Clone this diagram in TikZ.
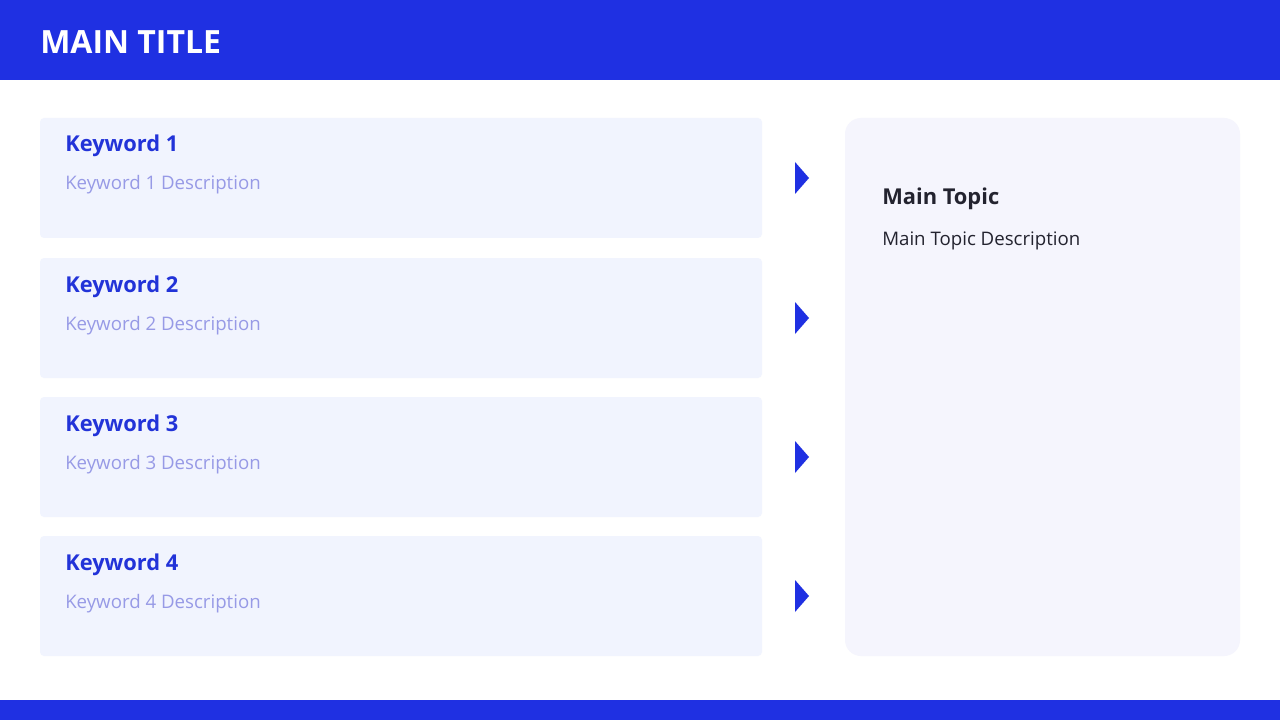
\documentclass[tikz,border=0pt]{standalone}
\usepackage{fontspec}
\setmainfont{Open Sans}
\definecolor{hblue}{HTML}{1F30E2}
\definecolor{kwcol}{HTML}{2233D8}
\definecolor{desccol}{HTML}{979AE6}
\definecolor{boxfill}{HTML}{F1F4FE}
\definecolor{panelfill}{HTML}{F5F5FD}
\definecolor{darktext}{HTML}{23232F}
\tikzset{
  kwbox/.style={fill=boxfill, rounded corners=3pt},
  kwtitle/.style={anchor=base west, inner sep=0pt, text=kwcol, font=\fontsize{16.4}{19}\selectfont\bfseries},
  kwdesc/.style={anchor=base west, inner sep=0pt, text=desccol, font=\fontsize{14}{17}\selectfont},
  arrowtri/.style={fill=hblue},
}
\begin{document}
\begin{tikzpicture}[x=0.75pt,y=-0.75pt]
\useasboundingbox (0,0) rectangle (1280,720);
\fill[white] (0,0) rectangle (1280,720);
% header and footer
\fill[hblue] (0,0) rectangle (1280,80);
\fill[hblue] (0,700) rectangle (1280,720);
\node[anchor=base west, inner sep=0pt, text=white, font=\fontsize{24}{28}\selectfont\bfseries] (title) at (40,54) {MAIN TITLE};
% keyword boxes
\foreach \i/\top in {1/118,2/258,3/397,4/536}{
  \fill[kwbox] (40,\top) rectangle (762,\top+120);
  \node[kwtitle] (kw\i) at (65,\top+34) {Keyword \i};
  \node[kwdesc] (kd\i) at (65,\top+72) {Keyword \i\ Description};
  \fill[arrowtri] (795,\top+44) -- (809,\top+60) -- (795,\top+76) -- cycle;
}
% main panel
\fill[panelfill, rounded corners=12pt] (845,118) rectangle (1240,656);
\node[anchor=base west, inner sep=0pt, text=darktext, font=\fontsize{16.4}{19}\selectfont\bfseries] (mt) at (882,205) {Main Topic};
\node[anchor=base west, inner sep=0pt, text=darktext, font=\fontsize{14}{17}\selectfont] (md) at (882,245) {Main Topic Description};
\end{tikzpicture}
\end{document}
